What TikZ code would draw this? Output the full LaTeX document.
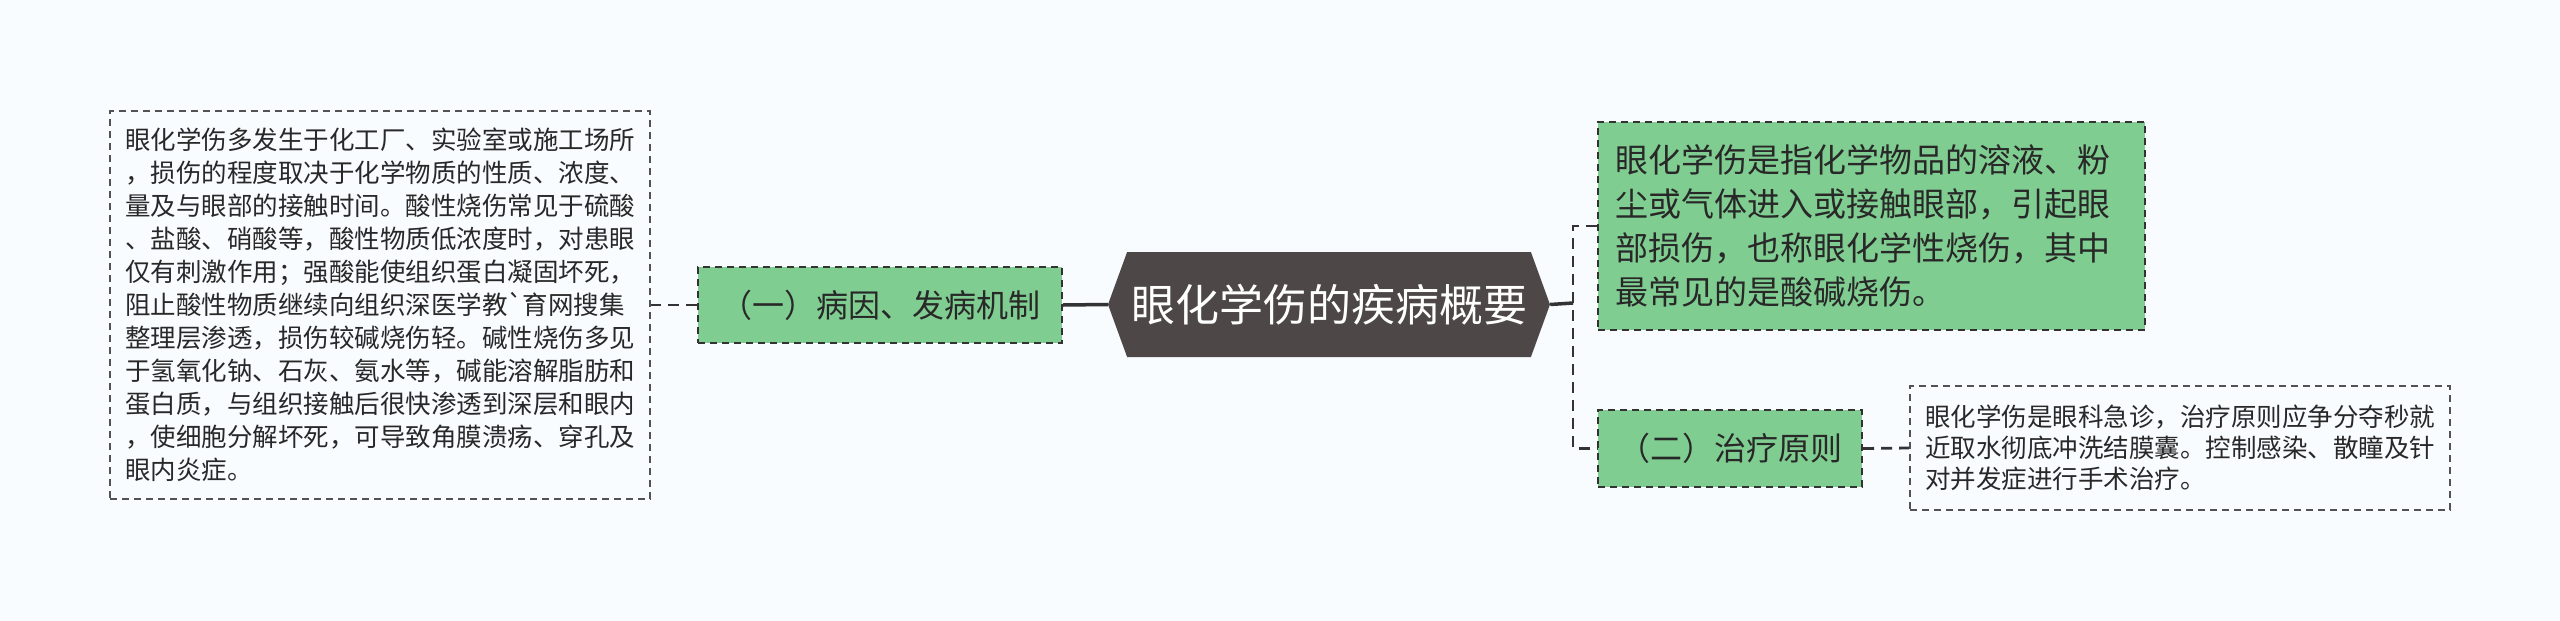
\documentclass[tikz,border=0pt]{standalone}
\usepackage{fontspec}
\newfontfamily\cjk{Noto Sans CJK SC}
\usetikzlibrary{shapes.symbols}
\definecolor{bgcol}{RGB}{248,252,254}
\definecolor{leafgreen}{RGB}{128,205,145}
\definecolor{rootgray}{RGB}{77,71,71}
\definecolor{linegray}{RGB}{51,51,51}
\definecolor{txtgray}{RGB}{40,40,40}

\begin{document}
\begin{tikzpicture}[x=1pt,y=-1pt]
		\tikzstyle{every node}+=[inner sep=0pt, text=txtgray]
		\tikzstyle{topic}=[draw=linegray, line width=2pt, dash pattern=on 7pt off 5pt, fill=leafgreen]
		\tikzstyle{note}=[draw=linegray!85, line width=1.8pt, dash pattern=on 7pt off 5pt, align=left]
		\tikzstyle{solidlink}=[draw=linegray, line width=3.5pt]
		\tikzstyle{dashlink}=[draw=linegray, line width=2.8pt, dash pattern=on 11pt off 7pt]
		\fill [bgcol] (0,0) rectangle (2560,621);
		\useasboundingbox (0,0) rectangle (2560,621);
		\node [signal, signal to=east and west, signal pointer angle=140, fill=rootgray, text=white, minimum width=442, minimum height=105, font=\cjk\fontsize{44}{50}\selectfont] (root) at (1329,304.5) {眼化学伤的疾病概要};
		\node [topic, minimum width=364, minimum height=76, font=\cjk\fontsize{32}{38}\selectfont] (cause) at (880,305) {（一）病因、发病机制};
		\node [note, minimum width=540, minimum height=388, font=\cjk\fontsize{25.5}{33}\selectfont] (causetxt) at (380,305) {眼化学伤多发生于化工厂、实验室或施工场所\\，损伤的程度取决于化学物质的性质、浓度、\\量及与眼部的接触时间。酸性烧伤常见于硫酸\\、盐酸、硝酸等，酸性物质低浓度时，对患眼\\仅有刺激作用；强酸能使组织蛋白凝固坏死，\\阻止酸性物质继续向组织深医学教`育网搜集\\整理层渗透，损伤较碱烧伤轻。碱性烧伤多见\\于氢氧化钠、石灰、氨水等，碱能溶解脂肪和\\蛋白质，与组织接触后很快渗透到深层和眼内\\，使细胞分解坏死，可导致角膜溃疡、穿孔及\\眼内炎症。};
		\node [topic, minimum width=547, minimum height=208, text width=513, align=left, font=\cjk\fontsize{33}{44}\selectfont] (def) at (1871.5,226) {眼化学伤是指化学物品的溶液、粉\\尘或气体进入或接触眼部，引起眼\\部损伤，也称眼化学性烧伤，其中\\最常见的是酸碱烧伤。};
		\node [topic, minimum width=264, minimum height=77, font=\cjk\fontsize{32}{38}\selectfont] (treat) at (1730,448.5) {（二）治疗原则};
		\node [note, minimum width=540, minimum height=124, font=\cjk\fontsize{25.5}{31}\selectfont] (treattxt) at (2180,448) {眼化学伤是眼科急诊，治疗原则应争分夺秒就\\近取水彻底冲洗结膜囊。控制感染、散瞳及针\\对并发症进行手术治疗。};
		\coordinate (fork) at (1573,303);
		\draw [solidlink] (root.west) -- (cause.east);
		\draw [dashlink] (cause.west) -- (causetxt.east);
		\draw [solidlink] (root.east) -- (fork);
		\draw [dashlink] (def.west) -| (fork) |- (treat.west);
		\draw [dashlink] (treat.east) -- (treattxt.west);
	\end{tikzpicture}
\end{document}
